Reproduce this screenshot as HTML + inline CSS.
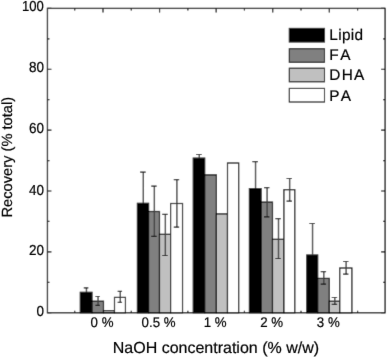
<!DOCTYPE html>
<html><head><meta charset="utf-8"><style>
html,body{margin:0;padding:0;background:#fff;}
svg{display:block;}
text{text-rendering:geometricPrecision;font-family:"Liberation Sans",Arial,sans-serif;fill:#000;stroke:#000;stroke-width:0.2px;}
.yt{font-size:13.5px;text-anchor:end;}
.xt{font-size:13.3px;text-anchor:middle;}
.lg{font-size:15.4px;}
.xl{font-size:16px;text-anchor:middle;}
.yl{font-size:14.7px;text-anchor:middle;}
</style></head><body>
<svg width="387" height="357" viewBox="0 0 387 357">
<defs><filter id="soft" x="0" y="0" width="387" height="357" filterUnits="userSpaceOnUse"><feConvolveMatrix order="3" kernelMatrix="0.0100 0.0800 0.0100 0.0800 0.6400 0.0800 0.0100 0.0800 0.0100" edgeMode="duplicate" preserveAlpha="true"/></filter>
<filter id="soft2" x="0" y="0" width="387" height="357" filterUnits="userSpaceOnUse"><feConvolveMatrix order="3" kernelMatrix="0.0036 0.0528 0.0036 0.0528 0.7744 0.0528 0.0036 0.0528 0.0036" edgeMode="duplicate"/></filter></defs>
<g filter="url(#soft)">
<rect width="387" height="357" fill="#fff"/>
<path d="M47.45,312.75h4M385.1,312.75h-4M47.45,282.31h2M385.1,282.31h-2M47.45,251.88h4M385.1,251.88h-4M47.45,221.44h2M385.1,221.44h-2M47.45,191.01h4M385.1,191.01h-4M47.45,160.57h2M385.1,160.57h-2M47.45,130.14h4M385.1,130.14h-4M47.45,99.71h2M385.1,99.71h-2M47.45,69.27h4M385.1,69.27h-4M47.45,38.83h2M385.1,38.83h-2M47.45,8.40h4M385.1,8.40h-4M74.71,8.4v2M74.71,312.75v-2M103.00,8.4v4M103.00,312.75v-4M131.29,8.4v2M131.29,312.75v-2M159.57,8.4v4M159.57,312.75v-4M187.86,8.4v2M187.86,312.75v-2M216.15,8.4v4M216.15,312.75v-4M244.44,8.4v2M244.44,312.75v-2M272.73,8.4v4M272.73,312.75v-4M301.01,8.4v2M301.01,312.75v-2M329.30,8.4v4M329.30,312.75v-4M357.59,8.4v2M357.59,312.75v-2" stroke="#000" stroke-width="1.2" fill="none"/>
<rect x="80.30" y="292.30" width="11.70" height="20.45" fill="#000000" stroke="#000" stroke-width="1.2"/>
<rect x="92.00" y="301.20" width="11.50" height="11.55" fill="#808080" stroke="#000" stroke-width="1.2"/>
<rect x="103.50" y="310.60" width="11.00" height="2.15" fill="#c0c0c0" stroke="#000" stroke-width="1.2"/>
<rect x="114.50" y="297.40" width="10.95" height="15.35" fill="#ffffff" stroke="#000" stroke-width="1.2"/>
<rect x="137.40" y="203.30" width="11.20" height="109.45" fill="#000000" stroke="#000" stroke-width="1.2"/>
<rect x="148.60" y="211.50" width="10.90" height="101.25" fill="#808080" stroke="#000" stroke-width="1.2"/>
<rect x="159.50" y="234.30" width="11.10" height="78.45" fill="#c0c0c0" stroke="#000" stroke-width="1.2"/>
<rect x="170.60" y="203.50" width="11.93" height="109.25" fill="#ffffff" stroke="#000" stroke-width="1.2"/>
<rect x="193.26" y="158.10" width="11.44" height="154.65" fill="#000000" stroke="#000" stroke-width="1.2"/>
<rect x="204.70" y="174.90" width="11.70" height="137.85" fill="#808080" stroke="#000" stroke-width="1.2"/>
<rect x="216.40" y="213.90" width="11.10" height="98.85" fill="#c0c0c0" stroke="#000" stroke-width="1.2"/>
<rect x="227.50" y="163.00" width="11.20" height="149.75" fill="#ffffff" stroke="#000" stroke-width="1.2"/>
<rect x="249.40" y="188.60" width="11.70" height="124.15" fill="#000000" stroke="#000" stroke-width="1.2"/>
<rect x="261.10" y="202.10" width="11.40" height="110.65" fill="#808080" stroke="#000" stroke-width="1.2"/>
<rect x="272.50" y="239.30" width="11.40" height="73.45" fill="#c0c0c0" stroke="#000" stroke-width="1.2"/>
<rect x="283.90" y="189.70" width="10.90" height="123.05" fill="#ffffff" stroke="#000" stroke-width="1.2"/>
<rect x="306.80" y="255.00" width="10.90" height="57.75" fill="#000000" stroke="#000" stroke-width="1.2"/>
<rect x="317.70" y="278.40" width="11.60" height="34.35" fill="#808080" stroke="#000" stroke-width="1.2"/>
<rect x="329.30" y="301.20" width="10.45" height="11.55" fill="#c0c0c0" stroke="#000" stroke-width="1.2"/>
<rect x="339.75" y="268.00" width="12.15" height="44.75" fill="#ffffff" stroke="#000" stroke-width="1.2"/>
<path d="M86.45,287.90V292.30M98.05,296.50V305.40M120.27,291.40V302.40M143.30,172.10V203.30M154.35,186.10V236.40M165.35,214.30V255.50M176.87,179.70V227.20M199.28,154.50V158.10M255.55,161.70V188.60M267.10,187.70V216.80M278.50,218.60V258.50M289.65,178.50V201.20M312.55,223.50V255.00M323.80,271.70V284.10M334.82,297.50V304.40M346.12,261.50V274.20" stroke="#444" stroke-width="1.45" fill="none"/>
<path d="M83.75,287.90h4.6M95.45,296.50h4.4M95.45,305.40h4.4M117.67,291.40h4.4M117.67,302.40h4.4M140.10,172.10h5.6M151.25,186.10h5.4M151.25,236.40h5.4M162.25,214.30h5.4M162.25,255.50h5.4M173.77,179.70h5.4M173.77,227.20h5.4M196.08,154.50h5.6M252.35,161.70h5.6M264.00,187.70h5.4M264.00,216.80h5.4M275.40,218.60h5.4M275.40,258.50h5.4M286.55,178.50h5.4M286.55,201.20h5.4M309.35,223.50h5.6M320.70,271.70h5.4M320.70,284.10h5.4M331.73,297.50h5.4M331.73,304.40h5.4M343.03,261.50h5.4M343.03,274.20h5.4" stroke="#111" stroke-width="1.2" fill="none"/>
<rect x="47.45" y="8.4" width="337.65" height="304.35" fill="none" stroke="#000" stroke-width="1.3"/>
<rect x="289.3" y="28.40" width="35.2" height="13.6" fill="#000000" stroke="#000" stroke-width="1.1"/>
<rect x="289.3" y="48.70" width="35.2" height="13.6" fill="#808080" stroke="#000" stroke-width="1.1"/>
<rect x="289.3" y="68.20" width="35.2" height="13.6" fill="#c0c0c0" stroke="#000" stroke-width="1.1"/>
<rect x="289.3" y="88.40" width="35.2" height="13.6" fill="#ffffff" stroke="#000" stroke-width="1.1"/>
</g>
<g filter="url(#soft2)">
<text x="329.3" y="39.5" class="lg" letter-spacing="0.30">Lipid</text>
<text x="329.3" y="60.3" class="lg" letter-spacing="2.45">FA</text>
<text x="329.3" y="80.4" class="lg" letter-spacing="1.23">DHA</text>
<text x="329.3" y="100.65" class="lg" letter-spacing="2.26">PA</text>
<text transform="translate(44.0,316.2) scale(1,1.075)" class="yt">0</text>
<text transform="translate(44.0,255.4) scale(1,1.075)" class="yt">20</text>
<text transform="translate(44.0,194.6) scale(1,1.075)" class="yt">40</text>
<text transform="translate(44.0,132.6) scale(1,1.075)" class="yt">60</text>
<text transform="translate(44.0,72.3) scale(1,1.075)" class="yt">80</text>
<text transform="translate(43.75,10.6) scale(0.97,1.075)" class="yt">100</text>
<text transform="translate(102.00,327.4) scale(1,1.05)" class="xt">0 %</text>
<text transform="translate(158.57,327.4) scale(1,1.05)" class="xt">0.5 %</text>
<text transform="translate(215.15,327.4) scale(1,1.05)" class="xt">1 %</text>
<text transform="translate(271.73,327.4) scale(1,1.05)" class="xt">2 %</text>
<text transform="translate(328.30,327.4) scale(1,1.05)" class="xt">3 %</text>
<text x="215.9" y="352.6" class="xl">NaOH concentration (% w/w)</text>
<text transform="translate(12.4,157.2) rotate(-90)" class="yl">Recovery (% total)</text>
</g>
</svg>
</body></html>
